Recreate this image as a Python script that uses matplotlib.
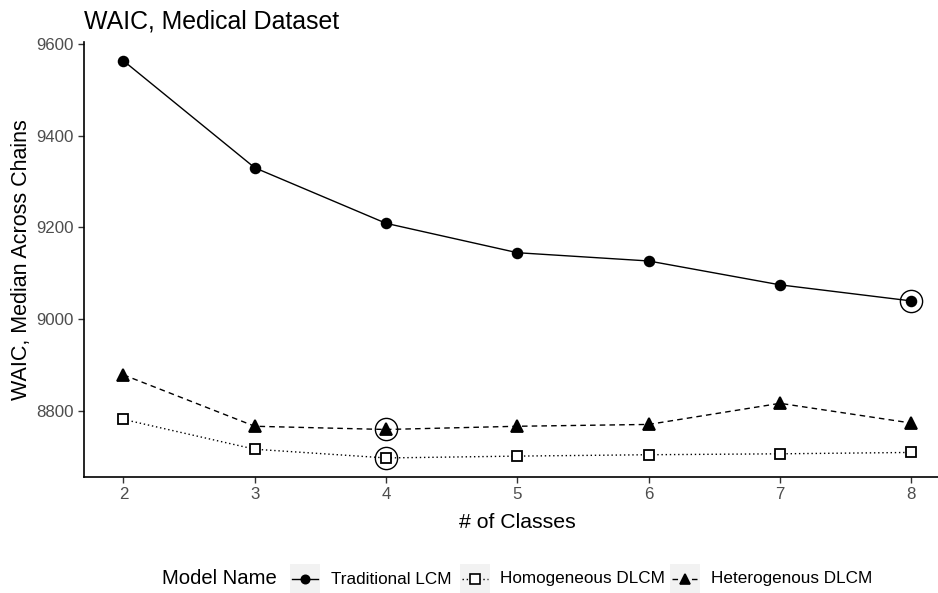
import matplotlib.pyplot as plt
from matplotlib.lines import Line2D
from matplotlib.patches import Rectangle

plt.rcParams['font.family'] = ['Liberation Sans', 'DejaVu Sans']

# datos
clases = [2, 3, 4, 5, 6, 7, 8]
trad_lcm = [9563, 9330, 9209, 9145, 9127, 9075, 9040]
homog_dlcm = [8782, 8717, 8698, 8702, 8705, 8707, 8710]
heterog_dlcm = [8879, 8767, 8760, 8767, 8771, 8817, 8774]
nombres = ["Traditional LCM", "Homogeneous DLCM", "Heterogenous DLCM"]

series = [
    (trad_lcm, "-", "o", "black", 7),
    (homog_dlcm, (0, (1, 2)), "s", "white", 7.5),
    (heterog_dlcm, (0, (4, 3)), "^", "black", 8),
]

fig = plt.figure(figsize=(9.38, 5.93), dpi=100)
ax = fig.add_axes([0.0896, 0.196, 0.924, 0.734])

for valores, ls, mk, fc, ms in series:
    ax.plot(clases, valores, linestyle=ls, color="black", linewidth=1,
            marker=mk, markerfacecolor=fc, markeredgecolor="black",
            markeredgewidth=1.3, markersize=ms)
    # marcar el minimo con un circulo
    i = valores.index(min(valores))
    ax.plot(clases[i], valores[i], marker="o", markersize=16,
            markerfacecolor="none", markeredgecolor="black", markeredgewidth=1)

ax.set_xlim(1.7, 8.3)
ax.set_ylim(8657, 9605)
ax.set_xticks(clases)
ax.set_yticks([8800, 9000, 9200, 9400, 9600])
for s in ["top", "right"]:
    ax.spines[s].set_visible(False)
for s in ["left", "bottom"]:
    ax.spines[s].set_linewidth(1.2)
ax.tick_params(labelcolor="#4D4D4D", labelsize=12.2, length=4, width=1, color="#333333")
ax.set_xlabel("# of Classes", fontsize=15.3, labelpad=8)
ax.set_ylabel("WAIC, Median Across Chains", fontsize=15.5, labelpad=3)
fig.text(84 / 938, 1 - 28 / 593, "WAIC, Medical Dataset", fontsize=17.9, va="baseline")

# leyenda abajo al estilo ggplot
fig.text(162 / 938, 1 - 579 / 593, "Model Name", fontsize=14.6, va="center")
key_x = [290, 460, 670]
text_x = [331, 500, 711]
for (valores, ls, mk, fc, ms), nombre, kx, tx in zip(series, nombres, key_x, text_x):
    fig.patches.append(Rectangle((kx / 938, 1 - 596 / 593), 30 / 938, 32 / 593,
                                 transform=fig.transFigure, facecolor="#F2F2F2",
                                 edgecolor="none"))
    fig.lines.append(Line2D([(kx + 2) / 938, (kx + 28) / 938],
                            [1 - 579 / 593, 1 - 579 / 593],
                            transform=fig.transFigure, color="black",
                            linestyle=ls, linewidth=1))
    fig.lines.append(Line2D([(kx + 15) / 938], [1 - 579 / 593],
                            transform=fig.transFigure, marker=mk,
                            markerfacecolor=fc, markeredgecolor="black",
                            markeredgewidth=1.2, markersize=ms - 1, linestyle="none"))
    fig.text(tx / 938, 1 - 579 / 593, nombre, fontsize=12.3, va="center")

plt.savefig("out.png", dpi=100)
